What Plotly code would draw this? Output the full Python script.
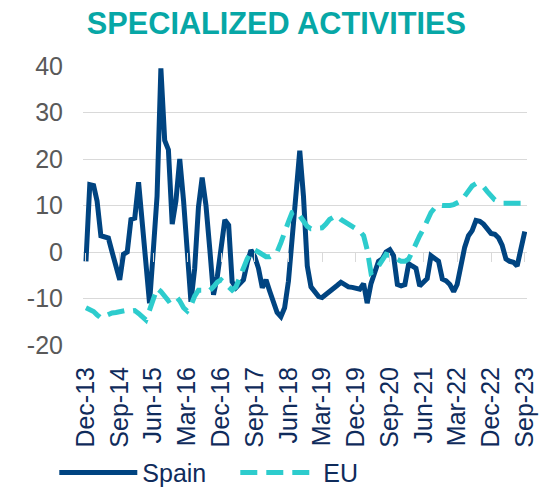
import pandas as pd
import plotly.graph_objects as go

# ---- data ----
months = pd.date_range("2013-12-01", "2023-09-01", freq="MS")

spain = [
    -2, 14.5, 14.3, 11, 3.5, 3.3, 3, 0, -3.5, -6,
    -0.5, 0, 7, 7.3, 15, 7, -2, -11, 0.5, 12,
    39.5, 24, 22, 6, 11, 20, 11, 0.5, -10.7, -3.6,
    9.7, 16, 10, 0.6, -9.2, -5.3, 1.5, 6.9, 5.8, -6.4,
    -7.7, -7, -6, -2.4, 0.4, -1, -3.5, -7.7, -6, -8.5,
    -11, -13, -13.9, -12, -6.3, 2, 12, 21.8, 12, -3,
    -7.5, -8.7, -9.6, -9.8, -9.2, -8.5, -7.8, -7.2, -6.5, -7,
    -7.5, -7.6, -7.8, -8, -6.8, -11, -6.8, -4, -2, -1.5,
    0, 0.5, -0.8, -7, -7.3, -7, -2.5, -3, -3.5, -7.3,
    -6.5, -5.7, -0.8, -1.3, -2, -5.8, -6.2, -7, -8.5, -7,
    -3, 1, 3.5, 4.6, 6.8, 6.6, 6, 5, 4, 3.8,
    3, 1.5, -1.5, -2, -2.2, -3, 0.5, 4.4,
]

eu = [
    -12, -12.3, -12.8, -13.5, -14.2, -13.8, -13.4, -13.1, -13, -12.8,
    -12.6, -12.5, -12.7, -12.6, -13.2, -14, -14.6, -12.5, -10, -7.8,
    -8.5, -9.5, -10.5, -10, -9.5, -10.5, -12, -12.7, -11.5, -9.5,
    -8.2, -8.2, -8.2, -8.3, -7.5, -6.5, -6, -6.8, -7.7, -8.2,
    -7.5, -5.5, -3, -1.5, 0, 0.4, 0, -0.5, -1, -1,
    -0.5, 0, 2, 4.5, 6.5, 8.5, 8.8, 7.8, 6.5, 5.5,
    5, 5, 5, 5.2, 6, 7, 7.5, 7.8, 7, 6.5,
    5.8, 5.2, 4.8, 4.5, 3.5, 0.5, -4.5, -4, -3, -1.5,
    -0.5, -0.8, -1.2, -1.8, -2, -2, -1.5, 0, 2, 3.5,
    5, 7, 8.5, 9.5, 10.1, 10, 9.9, 10, 10.2, 10.5,
    11, 12, 13, 14.2, 14.7, 14.3, 14, 13, 12, 11.2,
    10.8, 10.5, 10.5, 10.5, 10.5, 10.5, 10.5, 10.5,
]

y_ticks = [-20, -10, 0, 10, 20, 30, 40]
y_tick_labels = ["-20", "-10", "0", "10", "20", "30", "40"]
title_text = "SPECIALIZED ACTIVITIES"

# ---- styling ----
NAVY = "#0F2B5B"
GREY = "#595959"
GRID = "#D9D9D9"
FONT = "Liberation Sans, Arial, sans-serif"
x_range = ["2013-11-07", "2023-09-19"]

fig = go.Figure()
fig.add_trace(go.Scatter(
    x=months, y=spain, name="Spain", mode="lines",
    line=dict(color="#004481", width=5, shape="linear"),
))
fig.add_trace(go.Scatter(
    x=months, y=eu, name="EU", mode="lines", xaxis="x2",
    line=dict(color="#2DCCCD", width=5, dash="17px,9px"),
))

fig.update_layout(
    width=543, height=488,
    margin=dict(l=83, r=16, t=66, b=143, pad=0, autoexpand=False),
    paper_bgcolor="white", plot_bgcolor="white",
    font=dict(family=FONT, size=25, color=NAVY),
    title=dict(
        text="<b>" + title_text + "</b>",
        font=dict(family=FONT, size=30.7, color="#07A7A6"),
        xref="container", yref="container",
        x=0.509, y=0.953, xanchor="center", yanchor="middle",
    ),
    showlegend=True,
    legend=dict(
        orientation="h", xref="container", yref="container",
        x=0.1, y=0.031, xanchor="left", yanchor="middle",
        font=dict(family=FONT, size=25, color=NAVY),
        itemwidth=78, entrywidth=88, entrywidthmode="pixels",
        bgcolor="rgba(0,0,0,0)", tracegroupgap=0,
    ),
    xaxis=dict(
        type="date", range=x_range, automargin=False,
        tick0="2013-12-01", dtick="M9", tickformat="%b-%y",
        tickangle=-90, ticks="", ticklabelstandoff=16,
        tickfont=dict(family=FONT, size=25, color=NAVY),
        showgrid=False, zeroline=False, showline=False,
    ),
    xaxis2=dict(
        type="date", range=x_range, overlaying="x", anchor="free",
        position=1/3, side="bottom", automargin=False,
        tick0="2013-12-01", dtick="M9",
        ticks="outside", ticklen=9, tickwidth=1.3, tickcolor=GRID,
        showticklabels=False, showgrid=False, zeroline=False, showline=False,
    ),
    yaxis=dict(
        range=[-20, 40], tickvals=y_ticks, ticktext=y_tick_labels,
        ticks="", ticklabelstandoff=19, automargin=False,
        tickfont=dict(family=FONT, size=25, color=GREY),
        showgrid=True, gridcolor=GRID, gridwidth=1.3,
        zeroline=False, showline=False,
    ),
)

fig.write_html(
    "out.html",
    config={"displayModeBar": False},
    post_script="document.body.style.margin='0';document.body.style.overflow='hidden';",
)
